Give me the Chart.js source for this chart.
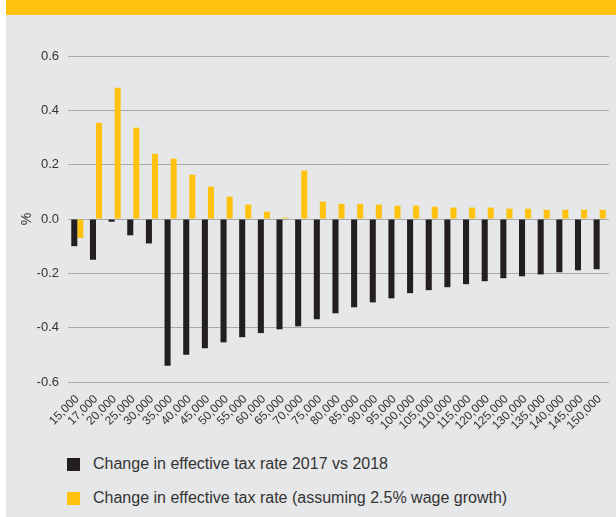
<!DOCTYPE html>
<html>
<head>
<meta charset="utf-8">
<script src="https://cdn.jsdelivr.net/npm/chart.js@4/dist/chart.umd.min.js"></script>
<style>
  body { margin: 0; background: #ffffff; }
  #wrap { position: relative; width: 616px; height: 517px; overflow: hidden; }
  #band { position: absolute; left: 6px; top: 0; width: 610px; height: 15px; background: #ffc20e; }
  #panel { position: absolute; left: 6px; top: 15px; width: 610px; height: 502px; background: #e6e7e8; }
  #myChart { position: absolute; left: 0; top: 0; }
  #legend { position: absolute; left: 67px; top: 457px; font-family: "Liberation Sans", Arial, sans-serif; font-size: 16px; color: #333333; }
  .item { display: flex; align-items: center; height: 14px; margin-bottom: 20px; }
  .swatch { width: 13px; height: 13px; margin-right: 13px; }
</style>
</head>
<body>
<div id="wrap">
  <div id="band"></div>
  <div id="panel"></div>
  <canvas id="myChart" width="616" height="440"></canvas>
  <div id="legend"></div>
</div>
<script>
const incomeLabels = ['15,000', '17,000', '20,000', '25,000', '30,000', '35,000', '40,000', '45,000',
  '50,000', '55,000', '60,000', '65,000', '70,000', '75,000', '80,000', '85,000', '90,000',
  '95,000', '100,000', '105,000', '110,000', '115,000', '120,000', '125,000', '130,000',
  '135,000', '140,000', '145,000', '150,000'];

// change in effective tax rate, 2017 vs 2018 (%)
const rateChange = [-0.10, -0.15, -0.01, -0.06, -0.09, -0.54, -0.50, -0.476, -0.454, -0.435,
  -0.42, -0.406, -0.395, -0.369, -0.347, -0.325, -0.307, -0.292, -0.273, -0.262, -0.251,
  -0.24, -0.229, -0.218, -0.211, -0.204, -0.196, -0.189, -0.185];

// same, assuming 2.5% wage growth (%)
const rateChangeWage = [-0.07, 0.354, 0.483, 0.336, 0.24, 0.222, 0.163, 0.119, 0.082, 0.053,
  0.027, 0.005, 0.178, 0.064, 0.056, 0.056, 0.053, 0.049, 0.049, 0.045, 0.042, 0.042,
  0.042, 0.038, 0.038, 0.034, 0.034, 0.034, 0.034];

const seriesNames = ['Change in effective tax rate 2017 vs 2018',
  'Change in effective tax rate (assuming 2.5% wage growth)'];
const seriesColors = ['#231f20', '#ffc20e'];

const fontFamily = '"Liberation Sans", Arial, sans-serif';
const textColor = '#333333';

const ctx = document.getElementById('myChart');
const mychart = new Chart(ctx, {
  type: 'bar',
  data: {
    labels: incomeLabels,
    datasets: [
      { label: seriesNames[0], data: rateChange, backgroundColor: seriesColors[0] },
      { label: seriesNames[1], data: rateChangeWage, backgroundColor: seriesColors[1] },
    ],
  },
  options: {
    responsive: false,
    animation: false,
    categoryPercentage: 0.65,
    barPercentage: 1.0,
    layout: { padding: { left: 0, right: 7, top: 56, bottom: 0 } },
    plugins: {
      legend: { display: false },
      tooltip: { enabled: false },
    },
    scales: {
      x: {
        grid: { display: false },
        border: { display: false },
        ticks: {
          minRotation: 45,
          maxRotation: 45,
          autoSkip: false,
          padding: 2,
          color: textColor,
          font: { family: fontFamily, size: 12 },
        },
        afterFit: (scale) => { scale.height = 58; },
      },
      y: {
        min: -0.6,
        max: 0.6,
        border: { display: false },
        grid: { color: '#a7a9ac', lineWidth: 1, drawTicks: false },
        ticks: {
          stepSize: 0.2,
          padding: 9,
          color: textColor,
          font: { family: fontFamily, size: 13 },
          callback: (v) => v.toFixed(1),
        },
        title: {
          display: true,
          text: '%',
          color: textColor,
          padding: { top: 19, bottom: 0 },
          font: { family: fontFamily, size: 14 },
        },
        afterFit: (scale) => { scale.width = 68; },
      },
    },
  },
});

// legend below the chart
const legendBox = document.getElementById('legend');
seriesNames.forEach((name, i) => {
  const item = document.createElement('div');
  item.className = 'item';
  const swatch = document.createElement('span');
  swatch.className = 'swatch';
  swatch.style.background = seriesColors[i];
  const text = document.createElement('span');
  text.textContent = name;
  item.appendChild(swatch);
  item.appendChild(text);
  legendBox.appendChild(item);
});
</script>
</body>
</html>
